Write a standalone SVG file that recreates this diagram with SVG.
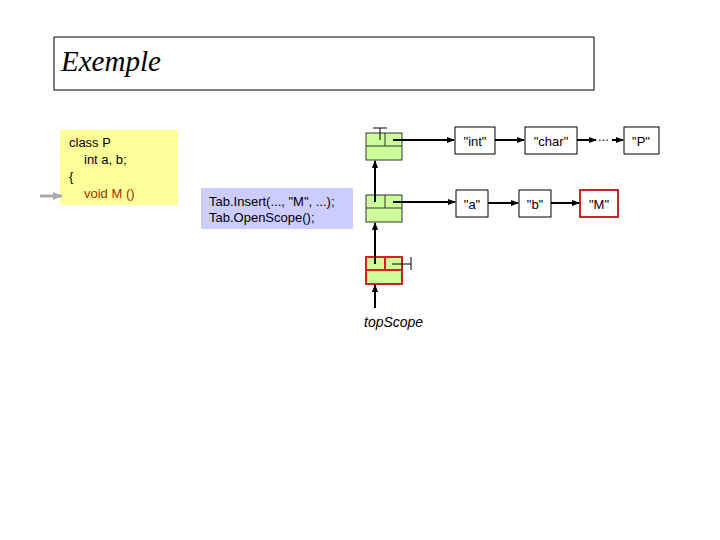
<svg xmlns="http://www.w3.org/2000/svg" width="720" height="540" viewBox="0 0 720 540">
<style>
.t{font-family:"Liberation Sans",Arial,sans-serif;font-size:13px;fill:#000}
.box{fill:#fff;stroke:#000;stroke-width:1}
.sc{fill:#ccff99;stroke:#333;stroke-width:1}
.ln{stroke:#000;stroke-width:2;fill:none}
</style>
<defs>
<marker id="a" markerWidth="8" markerHeight="8" refX="7" refY="4" orient="auto" markerUnits="userSpaceOnUse"><path d="M0,1 L8,4 L0,7Z" fill="#000"/></marker>
<marker id="g" markerWidth="10" markerHeight="8" refX="9" refY="4" orient="auto" markerUnits="userSpaceOnUse"><path d="M0,0 L10,4 L0,8Z" fill="#aaa"/></marker>
</defs>
<g id="title"><rect x="54" y="37" width="540" height="53" fill="#fff" stroke="#000"/>
<text x="61" y="71" font-family="Liberation Serif,serif" font-style="italic" font-size="29">Exemple</text></g>
<g id="code"><rect x="60" y="130" width="118" height="75" fill="#ffff99"/>
<text class="t" x="69" y="147">class P</text><text class="t" x="84" y="164">int a, b;</text>
<text class="t" x="69" y="181">{</text><text class="t" x="84" y="198" fill="#993300" style="fill:#993300">void M ()</text></g>
<g id="call"><rect x="201" y="188" width="152" height="41" fill="#ccccff"/>
<text class="t" x="209" y="206">Tab.Insert(..., "M", ...);</text><text class="t" x="209" y="222">Tab.OpenScope();</text></g>
<g id="s1"><rect class="sc" x="366" y="133" width="36" height="27"/><line x1="366" y1="146" x2="402" y2="146" stroke="#333"/><line x1="385" y1="133" x2="385" y2="146" stroke="#333"/>
<line x1="380" y1="128" x2="380" y2="140" stroke="#000"/><line x1="373" y1="128" x2="387" y2="128" stroke="#000"/></g>
<g id="s2"><rect class="sc" x="366" y="195" width="36" height="27"/><line x1="366" y1="208" x2="402" y2="208" stroke="#333"/><line x1="385" y1="195" x2="385" y2="208" stroke="#333"/></g>
<g id="s3"><rect x="366" y="257" width="36" height="27" fill="#ccff99" stroke="#cc2222" stroke-width="2"/><line x1="366" y1="270" x2="402" y2="270" stroke="#cc2222" stroke-width="2"/><line x1="385" y1="257" x2="385" y2="270" stroke="#cc2222" stroke-width="2"/>
<line x1="392" y1="264" x2="411" y2="264" stroke="#000"/><line x1="411" y1="257" x2="411" y2="270" stroke="#000"/></g>
<g id="n-int"><rect class="box" x="455" y="127" width="40" height="27"/><text class="t" x="475" y="146" text-anchor="middle">"int"</text></g>
<g id="n-char"><rect class="box" x="525" y="127" width="52" height="27"/><text class="t" x="551" y="146" text-anchor="middle">"char"</text></g>
<g id="n-P"><rect class="box" x="624" y="127" width="35" height="27"/><text class="t" x="641" y="146" text-anchor="middle">"P"</text></g>
<g id="n-a"><rect class="box" x="456" y="190" width="32" height="27"/><text class="t" x="472" y="209" text-anchor="middle">"a"</text></g>
<g id="n-b"><rect class="box" x="519" y="190" width="32" height="27"/><text class="t" x="535" y="209" text-anchor="middle">"b"</text></g>
<g id="n-M"><rect x="580" y="190" width="38" height="27" fill="#fff" stroke="#cc2222" stroke-width="2"/><text class="t" x="599" y="209" text-anchor="middle">"M"</text></g>
<text x="364" y="327" font-family="Liberation Sans,sans-serif" font-style="italic" font-size="14">topScope</text>
<g id="connectors">
<line x1="40" y1="196" x2="62" y2="196" stroke="#aaa" stroke-width="3" marker-end="url(#g)"/>
<line class="ln" x1="393" y1="140" x2="454" y2="140" marker-end="url(#a)"/>
<line class="ln" x1="495" y1="140" x2="524" y2="140" marker-end="url(#a)"/>
<line class="ln" x1="577" y1="140" x2="596" y2="140" marker-end="url(#a)"/>
<text class="t" x="598" y="141" font-size="11">...</text>
<line class="ln" x1="612" y1="140" x2="623" y2="140" marker-end="url(#a)"/>
<line class="ln" x1="393" y1="202" x2="455" y2="202" marker-end="url(#a)"/>
<line class="ln" x1="488" y1="203" x2="518" y2="203" marker-end="url(#a)"/>
<line class="ln" x1="551" y1="203" x2="579" y2="203" marker-end="url(#a)"/>
<line class="ln" x1="375" y1="202" x2="375" y2="161" marker-end="url(#a)"/>
<line class="ln" x1="375" y1="264" x2="375" y2="223" marker-end="url(#a)"/>
<line class="ln" x1="375" y1="308" x2="375" y2="285" marker-end="url(#a)"/>
</g>
</svg>
